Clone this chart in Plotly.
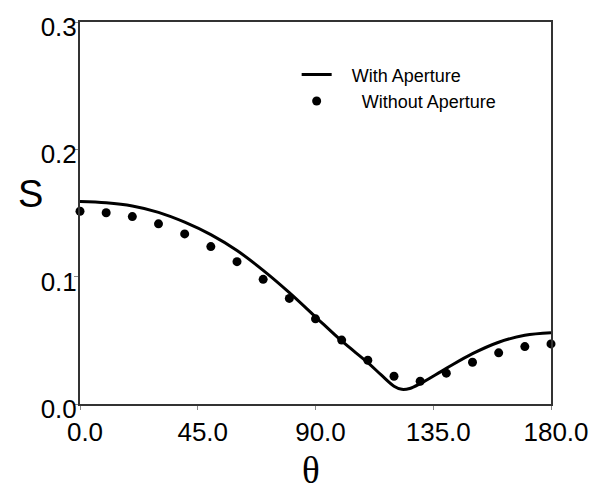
import plotly.graph_objects as go

# Data
theta_line = [0, 10, 20, 30, 40, 50, 60, 70, 80, 90, 100, 110, 115, 120, 123, 126, 130, 140, 150, 160, 170, 180]
s_with = [0.159, 0.158, 0.1555, 0.1505, 0.1428, 0.133, 0.1205, 0.105, 0.0875, 0.0685, 0.0495, 0.0325,
          0.023, 0.014, 0.0115, 0.0122, 0.016, 0.028, 0.0395, 0.0485, 0.054, 0.056]

theta_dots = [0, 10, 20, 30, 40, 50, 60, 70, 80, 90, 100, 110, 120, 130, 140, 150, 160, 170, 180]
s_without = [0.1514, 0.1502, 0.1472, 0.1415, 0.1336, 0.1236, 0.1118, 0.0979, 0.0829, 0.0669,
             0.0502, 0.0344, 0.0218, 0.0179, 0.0242, 0.0328, 0.0402, 0.0451, 0.0472]

x_ticks = [0, 45, 90, 135, 180]
x_tick_labels = ["0.0", "45.0", "90.0", "135.0", "180.0"]
y_ticks = [0.0, 0.1, 0.2, 0.3]
y_tick_labels = ["0.0", "0.1", "0.2", "0.3"]

NB = "\u00a0"
fig = go.Figure()
fig.add_trace(go.Scatter(x=theta_line, y=s_with, mode="lines", name=NB * 3 + "With Aperture",
                         line=dict(color="black", width=3, shape="spline"), cliponaxis=False))
fig.add_trace(go.Scatter(x=theta_dots, y=s_without, mode="markers", name=NB * 5 + "Without Aperture",
                         marker=dict(color="black", size=9), cliponaxis=False))

sans = "Liberation Sans, Arial, sans-serif"
axis_font = dict(family=sans, size=26, color="black")
fig.update_layout(
    width=603, height=493,
    margin=dict(l=80, r=52, t=22, b=89),
    plot_bgcolor="white", paper_bgcolor="white",
    font=dict(family=sans, color="black"),
    xaxis=dict(range=[0, 180], tickvals=x_ticks, ticktext=x_tick_labels, showgrid=False, zeroline=False,
               showline=True, linecolor="#333", linewidth=2, mirror=True, automargin=False,
               ticks="outside", ticklen=4, tickcolor="#888", tickfont=axis_font,
               ticklabelshift=5, ticklabelstandoff=0),
    yaxis=dict(range=[0, 0.3], tickvals=y_ticks, ticktext=y_tick_labels, showgrid=False, zeroline=False,
               showline=True, linecolor="#333", linewidth=2, mirror=True, automargin=False,
               ticks="outside", ticklen=4, tickcolor="#888", tickfont=axis_font,
               ticklabelshift=5, ticklabelstandoff=-8),
    legend=dict(x=0.46, y=0.91, xanchor="left", yanchor="top", bgcolor="rgba(0,0,0,0)",
                font=dict(size=18, family=sans), itemwidth=30, tracegroupgap=0),
    showlegend=True,
    annotations=[
        dict(text="S", xref="paper", yref="paper", x=-0.105, y=0.55, showarrow=False,
             xanchor="center", yanchor="middle", font=dict(family=sans, size=38)),
        dict(text="θ", xref="paper", yref="paper", x=0.49, y=-0.175, showarrow=False,
             xanchor="center", yanchor="middle",
             font=dict(family="Liberation Serif, Times New Roman, serif", size=37)),
    ],
)
fig.write_html("out.html", config={"displayModeBar": False},
               post_script="document.body.style.margin='0';")
